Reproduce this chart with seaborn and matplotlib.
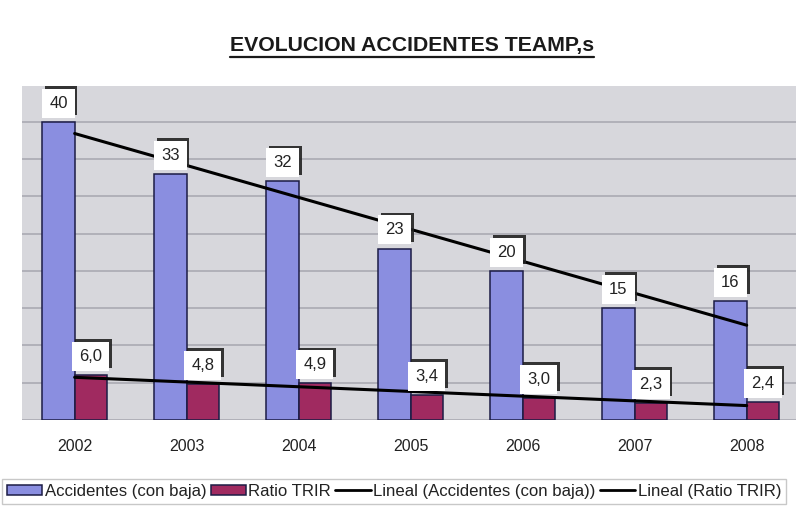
import numpy as np
import pandas as pd
import matplotlib.pyplot as plt
import matplotlib.patheffects as pe
from matplotlib.lines import Line2D
from matplotlib.patches import Patch
import seaborn as sns

years = ["2002", "2003", "2004", "2005", "2006", "2007", "2008"]
accidentes = [40, 33, 32, 23, 20, 15, 16]
ratio_trir = [6.0, 4.8, 4.9, 3.4, 3.0, 2.3, 2.4]
series = ["Accidentes (con baja)", "Ratio TRIR"]

df = pd.DataFrame({
    "Año": years * 2,
    "Serie": [series[0]] * len(years) + [series[1]] * len(years),
    "Valor": accidentes + ratio_trir,
})

blue = "#8a8ee0"
red = "#a02a60"

sns.set_theme(style="white")
plt.rcParams["font.family"] = ["Liberation Sans", "DejaVu Sans"]

fig = plt.figure(figsize=(8.04, 5.07), dpi=100)
ax = fig.add_axes([22 / 804, 1 - 420 / 507, 774 / 804, 334 / 507])
ax.set_facecolor("#d7d7dc")

sns.barplot(data=df, x="Año", y="Valor", hue="Serie", palette=[blue, red],
            saturation=1, width=0.58, gap=0, edgecolor="#1c1c45", linewidth=1.1,
            legend=False, ax=ax, zorder=3)

# linear trend lines (Excel "Lineal")
xs = np.arange(len(years))
for vals in (accidentes, ratio_trir):
    k, b = np.polyfit(xs, vals, 1)
    ax.plot(xs, k * xs + b, color="black", linewidth=2.2, zorder=4)

# value labels in white boxes with a small shadow
fmts = [lambda v: f"{v:.0f}", lambda v: f"{v:.1f}".replace(".", ",")]
for cont, fmt in zip(ax.containers, fmts):
    for bar in cont:
        h = bar.get_height()
        t = ax.annotate(fmt(h), (bar.get_x() + bar.get_width() / 2, h),
                        xytext=(0, 8), textcoords="offset points",
                        ha="center", va="bottom", fontsize=12, color="#222222",
                        zorder=6,
                        bbox=dict(boxstyle="square,pad=0.42", fc="white", ec="none"))
        t.get_bbox_patch().set_path_effects([
            pe.SimplePatchShadow(offset=(2, 2), shadow_rgbFace="#222222", alpha=0.9),
            pe.Normal(),
        ])

ax.set_xlim(-0.47, 6.44)
ax.set_ylim(0, 44.8)
ax.set_yticks(range(0, 45, 5))
ax.set_yticklabels([])
ax.yaxis.grid(True, color="#aaaab2", linewidth=1.2)
ax.set_axisbelow(True)
ax.tick_params(axis="y", length=0)
ax.tick_params(axis="x", length=0, pad=14, labelsize=11.5, labelcolor="#222222")
ax.set_xlabel("")
ax.set_ylabel("")
for s in ax.spines.values():
    s.set_visible(False)

title = fig.text(412 / 804, 1 - 46 / 507, "EVOLUCION ACCIDENTES TEAMP,s",
                 ha="center", va="center", fontsize=15.3, fontweight="bold",
                 color="#1a1a1a")
fig.canvas.draw()
bb = title.get_window_extent()
uy = bb.y0 - 1
fig.add_artist(Line2D([bb.x0 / 804, bb.x1 / 804], [uy / 507, uy / 507],
                      transform=fig.transFigure, color="#1a1a1a", linewidth=1.6))

handles = [
    Patch(facecolor=blue, edgecolor="#1c1c45", linewidth=1.1),
    Patch(facecolor=red, edgecolor="#1c1c45", linewidth=1.1),
    Line2D([0], [0], color="black", linewidth=2),
    Line2D([0], [0], color="black", linewidth=2),
]
labels = ["Accidentes (con baja)", "Ratio TRIR",
          "Lineal (Accidentes (con baja))", "Lineal (Ratio TRIR)"]
leg = fig.legend(handles, labels, loc="upper left",
                 bbox_to_anchor=(2 / 804, 1 - 479 / 507), ncol=4,
                 fontsize=12.1, frameon=True, fancybox=False,
                 handlelength=2.1, handleheight=0.6, handletextpad=0.15,
                 columnspacing=0.25, borderpad=0.3, borderaxespad=0)
leg.get_frame().set_edgecolor("#bbbbbb")
leg.get_frame().set_linewidth(1)
for txt in leg.get_texts():
    txt.set_color("#222222")

fig.savefig("out.png", dpi=100)
